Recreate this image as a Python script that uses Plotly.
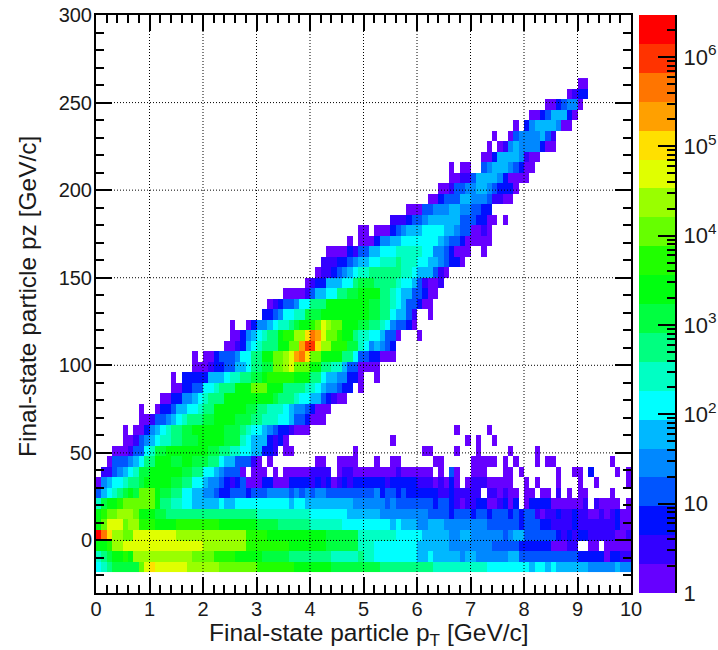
import math
import plotly.graph_objects as go

PT_BINS = 100
PT_WIDTH = 0.1
PZ_START = -18
PZ_WIDTH = 6
BAND_COLORS = ["#6600ff","#3300ff","#0010ff","#0055ff","#0088ff","#00b8ff","#00ffff","#00ffc4",
               "#00ff80","#00ff40","#00ff10","#20ff00","#66ff00","#99ff00","#e0ff00","#ffe000",
               "#ffa000","#ff7500","#ff3300","#ff0000"]
Z_MAX_LOG = 6.47
# each row, bottom to top: "first_bin:colour_band" change points, "." means empty
PZ_ROWS = [
"0:6 1:7 2:8 3:9 8:12 9:14 10:15 11:14 17:13 23:12 30:11 37:10 44:9 53:8 63:7 73:6 81:5 82:6 84:5 85:6 86:5 92:4 97:5 98:4",
"0:7 1:8 2:9 3:10 5:11 6:10 7:13 18:12 22:11 26:10 31:9 36:8 44:7 49:8 50:7 52:6 60:5 62:6 63:5 68:4 69:5 71:4 77:5 79:3 90:2 95:0 96:2 98:1",
"0:10 2:11 3:13 5:14 20:13 28:11 36:10 43:9 49:7 52:6 60:5 66:4 74:3 79:2 85:0 88:1 90:. 92:0 94:. 95:0",
"0:19 1:17 2:15 3:13 5:12 7:14 15:13 28:11 32:10 43:9 49:7 56:6 61:5 66:4 68:5 70:4 76:3 77:4 78:5 80:3 86:2 87:1 88:2 89:1 90:2 92:1 97:0 99:1",
"0:10 1:12 2:14 5:12 6:13 8:11 11:10 15:11 23:10 30:9 34:8 40:7 46:6 55:5 56:6 57:5 60:4 62:5 65:4 73:3 79:2 80:3 83:2 85:1 89:2 90:1 97:2 98:0",
"0:10 1:11 2:12 4:13 7:12 8:10 11:9 13:8 30:7 40:6 47:5 53:4 62:3 66:2 67:3 70:2 71:3 73:2 74:3 77:2 78:3 79:2 80:3 82:1 83:0 84:1 86:2 87:1 89:2 90:1 92:0 94:1 95:0 96:1 97:2 98:0",
"0:7 1:9 2:10 4:11 5:12 11:10 12:8 14:7 16:6 18:5 23:6 24:5 26:6 36:5 37:6 39:5 48:4 54:3 55:4 56:3 63:2 64:3 66:2 67:1 68:0 69:1 71:2 73:0 75:1 76:2 77:0 78:2 79:. 80:0 81:2 85:0 91:1 92:. 93:1 94:0 98:. 99:0",
"0:3 1:5 2:6 3:7 4:8 5:9 6:10 7:9 8:12 11:10 12:9 14:8 16:6 18:5 20:4 22:3 23:2 25:3 28:2 29:3 32:4 36:3 37:4 38:3 39:4 40:3 41:4 43:3 52:4 53:2 54:3 56:2 57:3 58:2 64:1 66:2 67:1 72:. 73:1 75:0 76:1 77:0 79:. 80:0 82:. 83:0 85:. 86:1 87:. 88:0 89:. 90:0 92:. 96:0 97:.",
"0:0 1:4 2:5 3:6 5:7 6:8 8:9 9:10 14:9 16:8 18:6 20:5 21:4 23:3 24:2 25:1 26:2 27:3 28:0 31:2 33:0 36:2 40:1 41:2 42:1 43:2 44:0 45:1 46:2 47:1 48:2 54:1 55:2 60:1 63:0 64:1 65:0 66:2 67:0 68:. 69:0 70:1 73:0 78:. 80:0 81:. 82:0 83:. 86:0 87:. 90:0 91:. 93:0 94:. 99:0",
"0:. 1:1 3:3 4:4 5:5 6:6 7:7 8:9 10:10 16:9 18:8 20:6 22:5 23:4 24:3 27:0 28:. 29:0 32:. 33:0 34:. 35:0 40:1 44:. 45:0 46:1 48:0 56:1 57:0 63:. 64:0 65:. 66:3 67:0 68:. 70:0 73:. 76:0 78:. 79:0 80:. 86:0 87:. 89:0 91:. 92:2 93:. 97:0 98:. 99:0",
"0:. 2:0 3:3 6:4 7:5 8:6 9:8 11:10 14:9 16:10 18:9 21:8 23:6 24:5 26:3 29:1 30:0 31:. 32:0 33:. 41:0 43:. 45:0 49:. 52:0 53:. 55:0 57:. 63:0 65:. 70:0 75:. 76:0 77:. 78:0 79:. 82:0 83:. 84:0 86:. 96:0 97:.",
"0:. 3:0 6:1 7:3 9:6 10:7 11:9 13:10 21:9 23:8 25:7 27:6 29:5 31:2 33:1 34:. 35:0 37:. 48:0 49:. 61:0 63:. 67:0 68:. 71:0 72:. 77:0 78:. 82:0 83:.",
"0:. 5:0 7:1 8:3 9:4 10:5 11:6 12:7 14:8 16:9 19:10 24:9 27:7 28:6 29:5 32:2 33:1 34:2 35:0 36:. 55:0 56:. 69:0 70:. 71:0 72:. 74:0 75:.",
"0:. 5:0 6:. 7:0 9:2 10:4 11:5 12:6 13:7 14:8 16:9 18:10 24:9 27:8 28:7 29:6 31:5 32:4 33:3 34:2 36:1 37:0 40:. 67:0 68:. 73:0 74:.",
"0:. 8:0 10:1 11:3 13:4 14:5 15:6 16:7 17:8 20:9 22:10 26:9 29:8 31:7 34:6 36:5 37:3 39:2 40:0 43:.",
"0:. 8:0 9:. 11:0 12:2 14:3 15:5 17:6 19:7 20:8 22:10 28:9 30:8 32:7 35:6 36:5 37:4 39:3 40:2 41:0 44:.",
"0:. 12:0 14:2 16:4 18:5 19:6 20:7 21:8 24:10 33:9 34:8 37:7 38:6 40:5 42:3 43:2 44:1 45:0 47:.",
"0:. 14:0 16:2 18:3 20:6 22:7 23:8 26:10 29:12 32:10 35:8 39:7 41:6 42:5 43:4 45:3 46:2 48:. 49:0 50:.",
"0:. 14:0 15:. 16:2 21:5 24:6 25:7 27:8 29:9 31:10 32:11 37:10 40:8 42:6 43:5 45:4 47:2 49:0 50:. 52:0 53:.",
"0:. 18:0 21:1 22:2 24:3 26:5 28:6 29:8 31:9 33:12 35:13 36:14 37:12 40:10 42:8 44:7 46:5 47:3 49:0 53:.",
"0:. 18:0 19:. 20:0 22:2 23:3 26:4 27:6 29:8 31:10 33:12 35:13 36:14 37:16 38:17 39:15 40:12 42:10 46:8 48:6 49:3 51:2 53:0 56:.",
"0:. 24:0 26:1 27:2 28:5 29:6 30:7 31:8 34:10 36:12 38:16 39:18 41:15 42:13 44:11 47:9 49:7 50:6 51:4 52:5 53:4 54:3 55:2 56:.",
"0:. 25:0 27:2 28:4 29:5 30:6 31:7 32:8 34:10 35:11 37:13 39:15 40:17 41:16 42:14 43:12 45:11 46:10 48:8 49:7 51:6 53:5 54:3 56:0 57:. 60:0 61:.",
"0:. 25:0 26:. 28:0 29:2 30:4 32:5 33:6 34:7 36:8 37:9 38:10 40:11 41:12 42:14 43:13 44:12 46:10 49:9 51:8 53:7 54:6 55:4 56:3 58:2 59:0 60:.",
"0:. 31:2 33:3 34:4 35:6 37:7 39:9 42:10 51:9 53:8 55:6 56:5 58:3 59:1 60:. 62:0 63:.",
"0:. 32:0 33:1 34:2 35:3 37:4 38:6 40:8 43:10 51:9 53:8 55:7 56:6 57:5 58:3 60:2 61:0 63:.",
"0:. 35:0 39:1 40:3 41:5 43:6 45:8 47:9 49:10 53:8 55:7 56:6 57:5 59:3 61:2 62:0 64:.",
"0:. 39:0 40:1 41:2 43:5 46:6 48:8 49:9 52:8 56:7 57:6 59:5 60:3 61:1 62:0 64:1 65:.",
"0:. 41:0 42:1 44:2 45:3 46:4 47:5 48:6 49:7 51:8 57:7 59:6 60:5 63:3 64:1 65:0 66:.",
"0:. 42:1 45:2 47:3 48:4 49:5 51:6 53:7 56:8 57:7 60:6 62:5 64:4 65:3 66:2 68:0 69:.",
"0:. 43:0 47:2 48:1 49:3 51:5 53:6 56:7 61:6 63:4 65:3 66:2 67:0 70:. 72:0 73:.",
"0:. 47:0 48:. 49:0 52:2 53:4 55:5 57:6 64:5 65:4 66:3 68:2 69:0 74:.",
"0:. 49:0 51:. 52:0 55:2 56:3 57:4 58:5 61:6 65:5 67:4 68:3 70:0 72:1 73:0 74:.",
"0:. 55:1 58:2 59:3 61:4 62:5 68:3 71:2 73:0 75:. 76:0 77:.",
"0:. 58:0 61:3 63:4 66:5 68:4 70:3 72:2 74:.",
"0:. 62:0 64:2 65:3 68:5 70:4 73:3 74:1 76:0 78:.",
"0:. 64:0 66:1 67:3 69:4 71:5 73:4 74:3 75:2 78:0 79:.",
"0:. 66:0 68:1 70:3 71:5 75:4 76:2 77:0 81:.",
"0:. 66:0 67:. 68:0 70:. 72:3 73:4 74:5 77:4 78:3 79:2 80:0 82:.",
"0:. 72:0 74:2 75:5 79:4 80:1 81:0 83:.",
"0:. 73:0 74:. 75:0 76:1 77:4 78:5 79:4 83:2 84:0 86:.",
"0:. 74:0 75:. 77:0 78:3 79:4 83:5 84:3 85:1 86:.",
"0:. 78:0 79:. 80:2 81:4 82:5 86:4 87:0 89:.",
"0:. 81:0 83:2 84:3 85:5 88:2 89:0 90:.",
"0:. 84:0 86:2 87:3 88:4 90:0 91:.",
"0:. 88:0 89:1 90:2 92:.",
"0:. 90:0 92:.",
]
X_TICKS = [0,1,2,3,4,5,6,7,8,9,10]
Y_TICKS = [0,50,100,150,200,250,300]
CB_TICKS = [0,1,2,3,4,5,6]
CB_LABELS = ["1","10","10<sup>2</sup>","10<sup>3</sup>","10<sup>4</sup>","10<sup>5</sup>","10<sup>6</sup>"]
X_TITLE = "Final-state particle p<sub>T</sub> [GeV/c]"
Y_TITLE = "Final-state particle pz [GeV/c]"

W, H = 718, 650
L, R, T, B = 96, 631, 15, 593
CB_L, CB_R = 639, 675
FONT = "Liberation Sans"
INK = "#1a1a1a"
band = Z_MAX_LOG / len(BAND_COLORS)

def decode(row):
    toks = [t.split(":") for t in row.split()]
    out = [None] * PT_BINS
    for k, (s, lv) in enumerate(toks):
        end = int(toks[k + 1][0]) if k + 1 < len(toks) else PT_BINS
        if lv != ".":
            for i in range(int(s), end):
                out[i] = (int(lv) + 0.5) * band
    return out

z = [decode(r) for r in PZ_ROWS]
xc = [(i + 0.5) * PT_WIDTH for i in range(PT_BINS)]
yc = [PZ_START + (r + 0.5) * PZ_WIDTH for r in range(len(PZ_ROWS))]

n = len(BAND_COLORS)
cs = []
for k, c in enumerate(BAND_COLORS):
    cs += [[k / n, c], [(k + 1) / n, c]]

fig = go.Figure()
fig.add_trace(go.Heatmap(x=xc, y=yc, z=z, colorscale=cs, zmin=0, zmax=Z_MAX_LOG,
                         showscale=False, hoverongaps=False))
cb_edges = [k * band for k in range(n + 1)]
fig.add_trace(go.Heatmap(x=[0, 1], y=cb_edges, z=[[(k + 0.5) * band] for k in range(n)],
                         colorscale=cs, zmin=0, zmax=Z_MAX_LOG, showscale=False,
                         xaxis="x2", yaxis="y2"))

tickfont = dict(family=FONT, size=20, color=INK)
common = dict(showline=True, linecolor="black", linewidth=2, mirror="ticks", ticks="inside",
              tickcolor="black", tickwidth=2, ticklen=16, tickfont=tickfont, zeroline=False,
              showgrid=False, automargin=False)
fig.update_layout(
    width=W, height=H, margin=dict(l=0, r=0, t=0, b=0), paper_bgcolor="white", plot_bgcolor="white",
    showlegend=False,
    xaxis=dict(domain=[L / W, R / W], range=[0, 10], tickvals=X_TICKS, ticklabelstandoff=-3,
               minor=dict(dtick=0.2, tick0=0, ticks="inside", ticklen=8, tickwidth=2, tickcolor="black"),
               **common),
    yaxis=dict(domain=[1 - B / H, 1 - T / H], range=[-30, 300], tickvals=Y_TICKS, ticklabelstandoff=-2,
               minor=dict(dtick=10, tick0=0, ticks="inside", ticklen=8, tickwidth=2, tickcolor="black"),
               **common),
    xaxis2=dict(domain=[CB_L / W, CB_R / W], range=[0, 1], visible=False, anchor="y2"),
    yaxis2=dict(domain=[1 - B / H, 1 - T / H], range=[0, Z_MAX_LOG], anchor="x2", side="right",
                tickvals=CB_TICKS, ticktext=CB_LABELS, showline=True, linecolor="black", linewidth=2,
                ticks="inside", ticklen=17, tickwidth=2, tickcolor="black", ticklabelstandoff=2,
                tickfont=dict(family=FONT, size=22, color=INK),
                showgrid=False, zeroline=False, automargin=False,
                minor=dict(tickvals=[d + math.log10(m) for d in range(7) for m in range(2, 10)
                                     if d + math.log10(m) < Z_MAX_LOG],
                           ticks="inside", ticklen=8, tickwidth=2, tickcolor="black")),
    annotations=[
        dict(text=X_TITLE, xref="paper", yref="paper", x=369 / W, y=1 - 634 / H, showarrow=False,
             xanchor="center", yanchor="middle", font=dict(family=FONT, size=24.5, color=INK)),
        dict(text=Y_TITLE, xref="paper", yref="paper", x=27 / W, y=1 - 297 / H, showarrow=False, textangle=-90,
             xanchor="center", yanchor="middle", font=dict(family=FONT, size=24.5, color=INK)),
    ],
)
grid = dict(color="black", width=1, dash="1px,2px")
for v in X_TICKS[1:-1]:
    fig.add_shape(type="line", xref="x", yref="paper", x0=v, x1=v, y0=1 - B / H, y1=1 - T / H, line=grid, layer="above")
for v in Y_TICKS[:-1]:
    fig.add_shape(type="line", xref="paper", yref="y", x0=L / W, x1=R / W, y0=v, y1=v, line=grid, layer="above")

fig.write_html("out.html", config={"displayModeBar": False},
               post_script="document.body.style.margin='0';")
